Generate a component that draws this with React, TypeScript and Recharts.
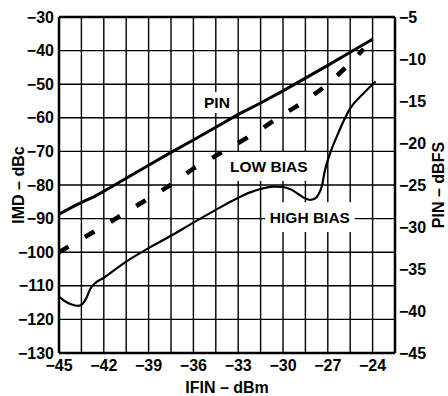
import { CartesianGrid, Line, LineChart, ReferenceArea, ReferenceLine, XAxis, YAxis } from "recharts";

const FONT = '"Liberation Sans", Arial, Helvetica, sans-serif';

// x axis: grid every 1.5 dBm, labels every 3 dBm
const ifinTicks = [-45, -43.5, -42, -40.5, -39, -37.5, -36, -34.5, -33, -31.5, -30, -28.5, -27, -25.5, -24, -22.5];
const ifinLabels = [-45, -42, -39, -36, -33, -30, -27, -24];
const imdTicks = [-130, -120, -110, -100, -90, -80, -70, -60, -50, -40, -30];
const pinScaleTicks = [-45, -40, -35, -30, -25, -20, -15, -10, -5];

// [IFIN dBm, IMD dBc]
const pinCurve = [
  [-45, -88.7], [-44, -86.3], [-43.2, -84.6], [-42.6, -83.4], [-41.5, -80.6], [-40.5, -78.0],
  [-39, -74.1], [-37.5, -70.3], [-36, -66.6], [-34.5, -62.8], [-33, -59.0], [-31.5, -55.6],
  [-30, -52.0], [-28.5, -48.2], [-27, -44.4], [-25.5, -40.5], [-24, -36.6],
];
const lowBiasCurve = [
  [-45, -100.0], [-43.5, -96.1], [-42, -92.2], [-40.5, -88.1], [-39, -84.0], [-37.5, -79.9],
  [-36, -75.1], [-34.5, -71.3], [-33, -67.5], [-31.5, -63.5], [-30, -59.0], [-28.5, -55.0],
  [-27, -50.0], [-25.5, -43.8], [-24.6, -39.5],
];
const highBiasCurve = [
  [-45, -113.2], [-44.6, -114.6], [-44.2, -115.5], [-43.7, -116.0], [-43.4, -115.3], [-43.15, -113.5],
  [-42.9, -110.9], [-42.6, -109.3], [-42, -107.6], [-40.5, -102.8], [-39, -98.8], [-37.5, -95.1],
  [-36, -91.2], [-34.5, -87.4], [-33, -83.8], [-32.2, -82.2], [-31.5, -81.2], [-30.6, -80.5],
  [-30, -80.6], [-29.5, -81.3], [-29, -82.6], [-28.6, -83.8], [-28.2, -84.4], [-27.85, -84.0],
  [-27.6, -82.6], [-27.4, -80.4], [-27.2, -75.8], [-26.85, -70.6], [-26.4, -65.6], [-26.05, -62.0],
  [-25.5, -57.2], [-24.6, -52.7], [-23.8, -49.2],
];

const toPoints = (pts: number[][]) => pts.map(([x, y]) => ({ x, y }));
const minus = (v: number) => String(v).replace("-", "\u2212");

const textStyle = { fill: "#000", fontSize: 16, fontWeight: 700, fontFamily: FONT };
const frame = { stroke: "#000", strokeWidth: 2.5 };
const boxLabel = (value: string) => ({ value, position: "center" as const, ...textStyle, fontSize: 15.5 });

export default function App() {
  return (
    <div style={{ position: "absolute", left: 0, top: 0, background: "#fff" }}>
      <LineChart width={448} height={396} margin={{ top: 17, right: 0, bottom: 0, left: 0 }}>
        <CartesianGrid yAxisId="left" stroke="#000" strokeWidth={1.4} />
        <XAxis
          type="number"
          dataKey="x"
          domain={[-45, -22.5]}
          ticks={ifinTicks}
          interval={0}
          tickFormatter={(v) => (ifinLabels.includes(v) ? minus(v) : "")}
          height={43}
          tickLine={false}
          tickSize={0}
          tickMargin={7}
          tick={textStyle}
          axisLine={frame}
          allowDataOverflow
          label={{ value: "IFIN – dBm", position: "center", dy: 13, ...textStyle }}
        />
        <YAxis
          yAxisId="left"
          type="number"
          domain={[-130, -30]}
          ticks={imdTicks}
          interval={0}
          tickFormatter={minus}
          width={59}
          tickLine={false}
          tickSize={0}
          tickMargin={5}
          tick={textStyle}
          axisLine={frame}
          allowDataOverflow
          label={{ value: "IMD – dBc", position: "center", angle: -90, dx: -11, ...textStyle }}
        />
        <YAxis
          yAxisId="right"
          orientation="right"
          type="number"
          domain={[-45, -5]}
          ticks={pinScaleTicks}
          interval={0}
          tickFormatter={minus}
          width={53}
          tickLine={false}
          tickSize={0}
          tickMargin={4}
          tick={textStyle}
          axisLine={frame}
          allowDataOverflow
          label={{ value: "PIN – dBFS", position: "center", angle: -90, dx: 17, ...textStyle }}
        />
        <ReferenceLine yAxisId="left" y={-30} {...frame} />
        <ReferenceArea yAxisId="left" x1={-35.7} x2={-33.15} y1={-52.3} y2={-58.6} fill="#fff" fillOpacity={1} stroke="none" label={boxLabel("PIN")} />
        <ReferenceArea yAxisId="left" x1={-33.8} x2={-28.1} y1={-70.2} y2={-78.8} fill="#fff" fillOpacity={1} stroke="none" label={boxLabel("LOW BIAS")} />
        <ReferenceArea yAxisId="left" x1={-31.2} x2={-25.2} y1={-85.1} y2={-94.0} fill="#fff" fillOpacity={1} stroke="none" label={boxLabel("HIGH BIAS")} />
        <Line yAxisId="left" data={toPoints(pinCurve)} dataKey="y" type="linear" stroke="#000" strokeWidth={3} dot={false} activeDot={false} isAnimationActive={false} />
        <Line yAxisId="left" data={toPoints(lowBiasCurve)} dataKey="y" type="linear" stroke="#000" strokeWidth={4.5} strokeDasharray="11 19" dot={false} activeDot={false} isAnimationActive={false} />
        <Line yAxisId="left" data={toPoints(highBiasCurve)} dataKey="y" type="monotone" stroke="#000" strokeWidth={2.2} dot={false} activeDot={false} isAnimationActive={false} />
      </LineChart>
    </div>
  );
}
